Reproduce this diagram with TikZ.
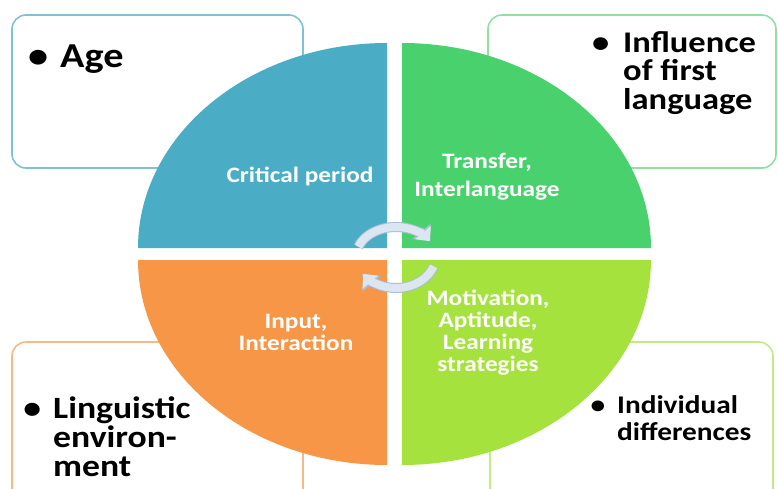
\documentclass[tikz,border=0pt]{standalone}
\usepackage{fontspec}
\setmainfont{Carlito}[FakeStretch=1.15]
\usetikzlibrary{arrows.meta}

\begin{document}
\begin{tikzpicture}[x=1pt, y=-1pt]
    % Colours of the four quarters and of the boxes around them
    \definecolor{qblue}{RGB}{75,172,198}
    \definecolor{qgreen}{RGB}{72,209,108}
    \definecolor{qorange}{RGB}{247,150,70}
    \definecolor{qlime}{RGB}{166,226,62}
    \definecolor{bblue}{RGB}{130,192,212}
    \definecolor{bgreen}{RGB}{145,224,162}
    \definecolor{borange}{RGB}{246,186,134}
    \definecolor{blime}{RGB}{196,234,132}
    \definecolor{cyclefill}{RGB}{220,230,241}
    \definecolor{cycleedge}{RGB}{168,190,216}

    \tikzset{
        sidebox/.style={line width=1.6pt, rounded corners=14pt, fill=white},
        item/.style={font=\bfseries, anchor=base west, inner sep=0pt, align=left, text=black},
        quadtext/.style={font=\bfseries\fontsize{22}{22}\selectfont, text=white, align=center, inner sep=0pt, anchor=base},
        cyclearrow/.style={line width=8pt, draw=cyclefill, -{Triangle[width=20pt, length=11pt]},
            preaction={draw=cycleedge, line width=10pt, -{Triangle[width=23pt, length=13pt]}}},
    }

    % semi-axes of the circle
    \def\rx{249}
    \def\ry{205}

    \useasboundingbox (0,0) rectangle (778,488);

    % Boxes behind the circle
    \draw[sidebox, draw=bblue] (12,15) rectangle (303,168);
    \draw[sidebox, draw=bgreen] (488,15) rectangle (776,168);
    \draw[sidebox, draw=borange] (12,342) rectangle (303,505);
    \draw[sidebox, draw=blime] (490,342) rectangle (773,505);

    % Four quarters
    \fill[qblue] (387,248) -- (138,248) arc[start angle=180, end angle=270, x radius=\rx, y radius=\ry] -- cycle;
    \fill[qgreen] (402,248) -- (402,43) arc[start angle=270, end angle=360, x radius=\rx, y radius=\ry] -- cycle;
    \fill[qorange] (387,260) -- (138,260) arc[start angle=180, end angle=90, x radius=\rx, y radius=\ry] -- cycle;
    \fill[qlime] (402,260) -- (651,260) arc[start angle=0, end angle=90, x radius=\rx, y radius=\ry] -- cycle;

    % Cycle arrows in the middle
    \draw[cyclearrow] (396,257) ++(200:40 and 30) arc[start angle=200, end angle=328, x radius=40, y radius=30];
    \draw[cyclearrow] (396,255) ++(20:40 and 33) arc[start angle=20, end angle=145, x radius=40, y radius=33];

    % Texts in the quarters (a node's base is the baseline of its last line)
    \node[quadtext] (critical) at (300,182) {Critical period};
    \node[quadtext, font=\bfseries\fontsize{22}{28}\selectfont] (transfer) at (487,196) {Transfer,\\Interlanguage};
    \node[quadtext] (input) at (296,350) {Input,\\Interaction};
    \node[quadtext] (motivation) at (488,371) {Motivation,\\Aptitude,\\Learning\\strategies};

    % Texts in the boxes
    \node[item, font=\bfseries\fontsize{35}{35}\selectfont] (age) at (60,67) {\llap{\textbullet\hspace{12pt}}Age};
    \node[item, font=\bfseries\fontsize{30}{28.5}\selectfont] (influence) at (623,109) {\llap{\textbullet\hspace{14pt}}Influence\\of first\\language};
    \node[item, font=\bfseries\fontsize{31}{29}\selectfont] (linguistic) at (53,476) {\llap{\textbullet\hspace{12pt}}Linguistic\\environ-\\ment};
    \node[item, font=\bfseries\fontsize{25.5}{27}\selectfont] (individual) at (617,440) {\llap{\textbullet\hspace{12pt}}Individual\\differences};
\end{tikzpicture}
\end{document}
